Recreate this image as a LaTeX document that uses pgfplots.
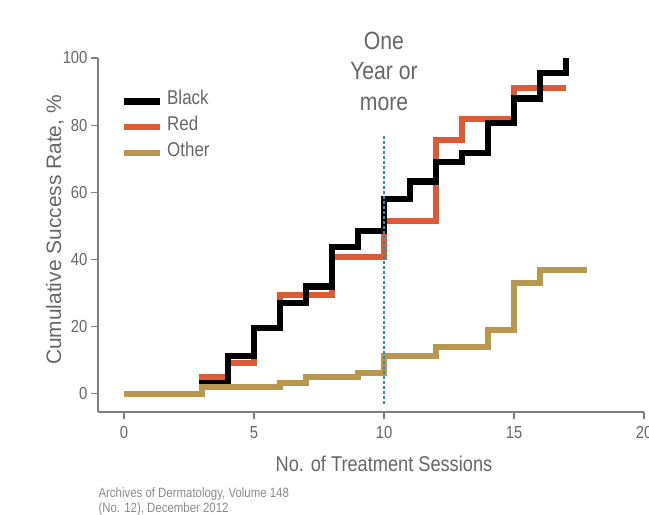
\documentclass[border=0pt]{standalone}
\usepackage{pgfplots}
\pgfplotsset{compat=1.18}
\usepackage{fontspec}
\setmainfont{Liberation Sans}[FakeStretch=0.85]
\newfontfamily\ylabfont{Liberation Sans}
\definecolor{cred}{HTML}{DC5A35}
\definecolor{cgold}{HTML}{B8974F}
\definecolor{cteal}{HTML}{2F8CAA}
\definecolor{ctext}{HTML}{666666}
\definecolor{csrc}{HTML}{8A8A8A}
\definecolor{caxis}{HTML}{808080}
\begin{document}
\begin{tikzpicture}
\useasboundingbox (-98bp,-103bp) rectangle (551bp,412bp);
\begin{axis}[
  at={(0bp,0bp)}, anchor=south west,
  scale only axis, width=546bp, height=354bp,
  xmin=-1, xmax=20, ymin=-5.4, ymax=100,
  clip=false,
  axis x line*=bottom, axis y line*=left,
  axis line style={caxis, line width=1.5bp},
  xtick={0,5,10,15,20}, ytick={0,20,40,60,80,100},
  tick align=outside, major tick length=7bp,
  tick style={caxis, line width=1.2bp},
  /pgf/number format/assume math mode=true,
  ticklabel style={font=\fontsize{17.5}{20}\selectfont, text=ctext},
  xticklabel style={yshift=-4bp},
  xlabel={No. of Treatment Sessions},
  xlabel style={font=\fontsize{21.5}{26}\selectfont, text=ctext,
    at={(axis description cs:0.5238,0)}, anchor=base, yshift=-59.5bp},
  ylabel={Cumulative Success Rate, \%},
  ylabel style={font=\ylabfont\fontsize{21}{25}\selectfont, text=ctext,
    at={(axis description cs:0,0.514)}, anchor=center, yshift=43bp},
  legend style={at={(axis description cs:0.0403,1)}, anchor=north west,
    draw=none, fill=none, inner sep=0bp, row sep=0bp,
    font=\fontsize{20}{24}\selectfont, text=ctext,
    nodes={inner sep=0bp, text height=16bp, text depth=10bp},
    yshift=-30bp},
  legend cell align=left,
  legend image code/.code={\draw[#1, line cap=butt] (0bp,0bp) -- (36bp,0bp);},
  /tikz/every odd column/.append style={column sep=4bp},
]
\addlegendimage{black, line width=7bp}
\addlegendentry{Black}
\addlegendimage{cred, line width=6bp}
\addlegendentry{Red}
\addlegendimage{cgold, line width=6bp}
\addlegendentry{Other}

% Red
\addplot[cred, line width=6bp, const plot, line join=miter, forget plot] coordinates {
(0,0) (3,5) (4,9.3) (5,19.6) (6,29.5) (8,40.8) (10,51.5) (12,75.6) (13,81.8) (15,91.2) (17,91.2)};
% Black
\addplot[black, line width=6.5bp, const plot, line join=miter, forget plot] coordinates {
(0,0) (3,3.3) (4,11.3) (5,19.6) (6,27) (7,32) (8,43.8) (9,48.5) (10,58) (11,63.2) (12,69) (13,71.7) (14,80.6) (15,88) (16,95.5) (17,100)};
% Other
\addplot[cgold, line width=6bp, const plot, line join=miter, forget plot] coordinates {
(0,0) (3,1.9) (6,3.2) (7,5) (9,6.2) (10,11.4) (12,14.1) (14,19) (15,33) (16,36.9) (17.8,36.9)};
% One year marker
\addplot[cteal, line width=2.8bp, dash pattern=on 2.6bp off 2.4bp, forget plot] coordinates {(10,-3) (10,77)};

\node[font=\fontsize{25}{30}\selectfont, text=ctext, anchor=base] at (axis cs:10,102.4) {One};
\node[font=\fontsize{25}{30}\selectfont, text=ctext, anchor=base] at (axis cs:10,93.5) {Year or};
\node[font=\fontsize{25}{30}\selectfont, text=ctext, anchor=base] at (axis cs:10,84.5) {more};

\node[font=\fontsize{13.5}{16}\selectfont, text=csrc, anchor=base west, xshift=-3bp, yshift=-85bp] at (rel axis cs:0,0) {Archives of Dermatology, Volume 148};
\node[font=\fontsize{13.5}{16}\selectfont, text=csrc, anchor=base west, xshift=-3bp, yshift=-100bp] at (rel axis cs:0,0) {(No. 12), December 2012};
\end{axis}
\end{tikzpicture}
\end{document}
